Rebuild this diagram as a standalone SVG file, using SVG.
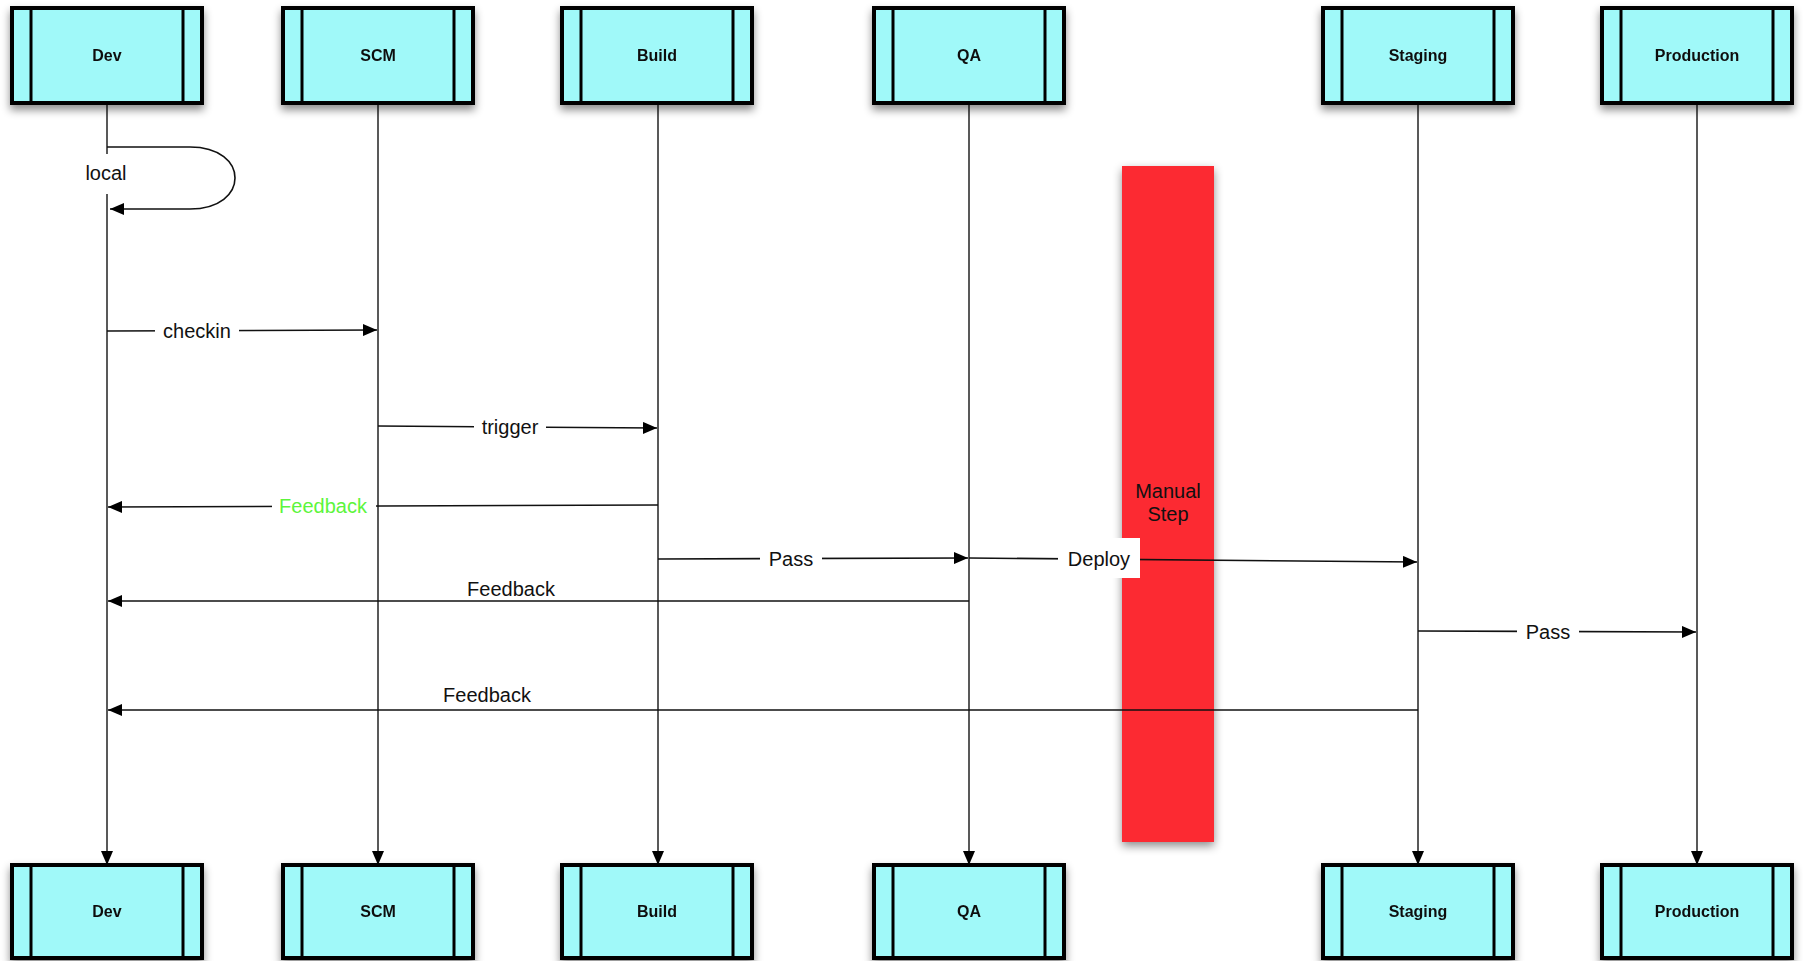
<svg xmlns="http://www.w3.org/2000/svg" width="1803" height="961" viewBox="0 0 1803 961">
<style>
.box{fill:#A0F9F9;stroke:#000;stroke-width:4}
.bar{stroke:#000;stroke-width:3}
.nl{font-family:"Liberation Sans",Arial,sans-serif;font-size:16px;font-weight:bold;fill:#111;text-anchor:middle}
.life{stroke:#222;stroke-width:1.5;fill:none}
.msg{stroke:#111;stroke-width:1.6;fill:none}
.lbl{font-family:"Liberation Sans",Arial,sans-serif;font-size:20px;fill:#111;text-anchor:middle}
.bg{fill:#fff}
</style>
<defs>
<filter id="sh" x="-20%" y="-20%" width="140%" height="140%">
<feDropShadow dx="0" dy="5" stdDeviation="4" flood-color="#000" flood-opacity="0.45"/>
</filter>
<filter id="shr" x="-30%" y="-10%" width="160%" height="120%">
<feDropShadow dx="0" dy="4" stdDeviation="5" flood-color="#000" flood-opacity="0.45"/>
</filter>
<marker id="ah" viewBox="0 0 14 12" refX="14" refY="6" markerWidth="14" markerHeight="12" markerUnits="userSpaceOnUse" orient="auto">
<path d="M0,0 L14,6 L0,12 Z" fill="#000"/>
</marker>
</defs>

<g id="manual-step">
<rect x="1122" y="166" width="92" height="676" fill="#FC2A33" filter="url(#shr)"/>
<text class="lbl" x="1168" y="498">Manual</text>
<text class="lbl" x="1168" y="521">Step</text>
</g>

<g id="connectors">
<!-- lifelines -->
<line class="life" x1="107" y1="103" x2="107" y2="865" marker-end="url(#ah)"/>
<line class="life" x1="378" y1="103" x2="378" y2="865" marker-end="url(#ah)"/>
<line class="life" x1="658" y1="103" x2="658" y2="865" marker-end="url(#ah)"/>
<line class="life" x1="969" y1="103" x2="969" y2="865" marker-end="url(#ah)"/>
<line class="life" x1="1418" y1="103" x2="1418" y2="865" marker-end="url(#ah)"/>
<line class="life" x1="1697" y1="103" x2="1697" y2="865" marker-end="url(#ah)"/>

<!-- local -->
<path class="msg" d="M107,147 L190,147 C250,147 250,209 190,209 L110,209" marker-end="url(#ah)"/>
<rect class="bg" x="82" y="154" width="48" height="40"/>
<text class="lbl" x="106" y="180">local</text>

<!-- checkin -->
<line class="msg" x1="107" y1="331" x2="377" y2="330" marker-end="url(#ah)"/>
<rect class="bg" x="155" y="318" width="84" height="26"/>
<text class="lbl" x="197" y="338">checkin</text>

<!-- trigger -->
<line class="msg" x1="378" y1="426" x2="657" y2="428" marker-end="url(#ah)"/>
<rect class="bg" x="474" y="413" width="72" height="28"/>
<text class="lbl" x="510" y="434">trigger</text>

<!-- green Feedback -->
<line class="msg" x1="658" y1="505" x2="108" y2="507" marker-end="url(#ah)"/>
<rect class="bg" x="272" y="492" width="104" height="28"/>
<text class="lbl" x="323" y="513" fill="#5CF53C" style="fill:#5CF53C">Feedback</text>

<!-- Pass build->QA -->
<line class="msg" x1="658" y1="559" x2="968" y2="558" marker-end="url(#ah)"/>
<rect class="bg" x="760" y="546" width="62" height="26"/>
<text class="lbl" x="791" y="566">Pass</text>

<!-- Deploy QA->Staging -->
<line class="msg" x1="969" y1="558" x2="1417" y2="562" marker-end="url(#ah)"/>
<rect class="bg" x="1058" y="538" width="82" height="40"/>
<text class="lbl" x="1099" y="566">Deploy</text>

<!-- Feedback QA->Dev -->
<line class="msg" x1="969" y1="601" x2="108" y2="601" marker-end="url(#ah)"/>
<text class="lbl" x="511" y="596">Feedback</text>

<!-- Pass Staging->Production -->
<line class="msg" x1="1418" y1="631" x2="1696" y2="632" marker-end="url(#ah)"/>
<rect class="bg" x="1517" y="618" width="62" height="26"/>
<text class="lbl" x="1548" y="639">Pass</text>

<!-- Feedback Staging->Dev -->
<line class="msg" x1="1418" y1="710" x2="108" y2="710" marker-end="url(#ah)"/>
<text class="lbl" x="487" y="702">Feedback</text>
</g>

<g id="dev-top" filter="url(#sh)"><rect class="box" x="12" y="8" width="190" height="95"/><line class="bar" x1="31" y1="8" x2="31" y2="103"/><line class="bar" x1="183" y1="8" x2="183" y2="103"/><text class="nl" x="107" y="61">Dev</text></g>
<g id="scm-top" filter="url(#sh)"><rect class="box" x="283" y="8" width="190" height="95"/><line class="bar" x1="302" y1="8" x2="302" y2="103"/><line class="bar" x1="454" y1="8" x2="454" y2="103"/><text class="nl" x="378" y="61">SCM</text></g>
<g id="build-top" filter="url(#sh)"><rect class="box" x="562" y="8" width="190" height="95"/><line class="bar" x1="581" y1="8" x2="581" y2="103"/><line class="bar" x1="733" y1="8" x2="733" y2="103"/><text class="nl" x="657" y="61">Build</text></g>
<g id="qa-top" filter="url(#sh)"><rect class="box" x="874" y="8" width="190" height="95"/><line class="bar" x1="893" y1="8" x2="893" y2="103"/><line class="bar" x1="1045" y1="8" x2="1045" y2="103"/><text class="nl" x="969" y="61">QA</text></g>
<g id="staging-top" filter="url(#sh)"><rect class="box" x="1323" y="8" width="190" height="95"/><line class="bar" x1="1342" y1="8" x2="1342" y2="103"/><line class="bar" x1="1494" y1="8" x2="1494" y2="103"/><text class="nl" x="1418" y="61">Staging</text></g>
<g id="production-top" filter="url(#sh)"><rect class="box" x="1602" y="8" width="190" height="95"/><line class="bar" x1="1621" y1="8" x2="1621" y2="103"/><line class="bar" x1="1773" y1="8" x2="1773" y2="103"/><text class="nl" x="1697" y="61">Production</text></g>

<g id="dev-bottom" filter="url(#sh)"><rect class="box" x="12" y="865" width="190" height="93"/><line class="bar" x1="31" y1="865" x2="31" y2="958"/><line class="bar" x1="183" y1="865" x2="183" y2="958"/><text class="nl" x="107" y="917">Dev</text></g>
<g id="scm-bottom" filter="url(#sh)"><rect class="box" x="283" y="865" width="190" height="93"/><line class="bar" x1="302" y1="865" x2="302" y2="958"/><line class="bar" x1="454" y1="865" x2="454" y2="958"/><text class="nl" x="378" y="917">SCM</text></g>
<g id="build-bottom" filter="url(#sh)"><rect class="box" x="562" y="865" width="190" height="93"/><line class="bar" x1="581" y1="865" x2="581" y2="958"/><line class="bar" x1="733" y1="865" x2="733" y2="958"/><text class="nl" x="657" y="917">Build</text></g>
<g id="qa-bottom" filter="url(#sh)"><rect class="box" x="874" y="865" width="190" height="93"/><line class="bar" x1="893" y1="865" x2="893" y2="958"/><line class="bar" x1="1045" y1="865" x2="1045" y2="958"/><text class="nl" x="969" y="917">QA</text></g>
<g id="staging-bottom" filter="url(#sh)"><rect class="box" x="1323" y="865" width="190" height="93"/><line class="bar" x1="1342" y1="865" x2="1342" y2="958"/><line class="bar" x1="1494" y1="865" x2="1494" y2="958"/><text class="nl" x="1418" y="917">Staging</text></g>
<g id="production-bottom" filter="url(#sh)"><rect class="box" x="1602" y="865" width="190" height="93"/><line class="bar" x1="1621" y1="865" x2="1621" y2="958"/><line class="bar" x1="1773" y1="865" x2="1773" y2="958"/><text class="nl" x="1697" y="917">Production</text></g>
</svg>
